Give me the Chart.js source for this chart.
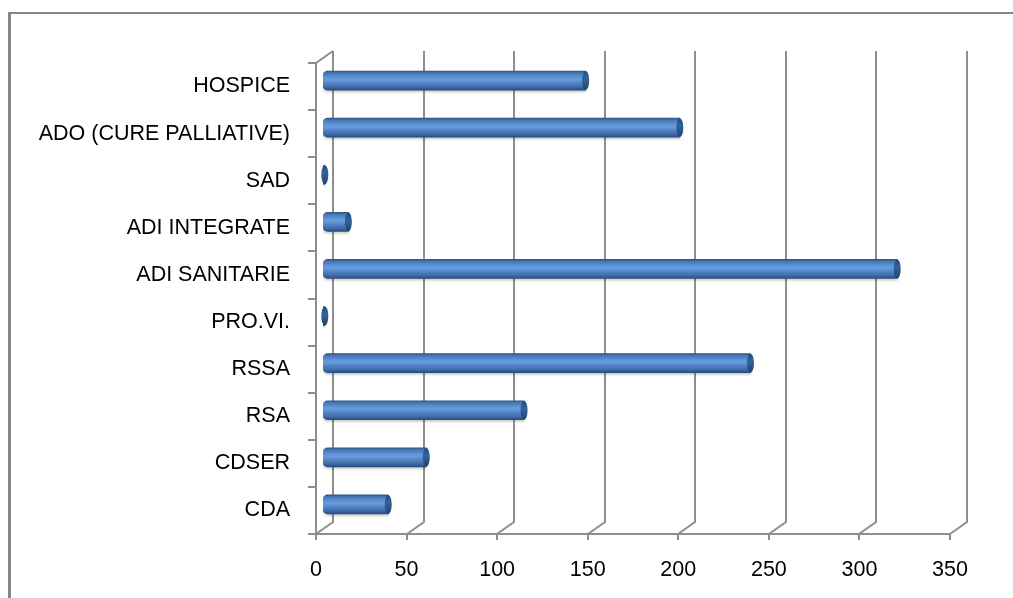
<!DOCTYPE html>
<html>
<head>
<meta charset="utf-8">
<title>Servizi</title>
<script src="https://cdn.jsdelivr.net/npm/chart.js@4.4.1/dist/chart.umd.min.js"></script>
<style>
  html, body { margin: 0; padding: 0; background: #ffffff; }
  #wrap { width: 1013px; height: 598px; position: relative; }
  canvas { display: block; }
</style>
</head>
<body>
<div id="wrap"><canvas id="chart" width="1013" height="598"></canvas></div>
<script>
// Categories, listed from top to bottom
const categories = [
  'HOSPICE',
  'ADO (CURE PALLIATIVE)',
  'SAD',
  'ADI INTEGRATE',
  'ADI SANITARIE',
  'PRO.VI.',
  'RSSA',
  'RSA',
  'CDSER',
  'CDA'
];
// Number of users per service
const values = [145, 197, 1, 14, 317, 1, 236, 111, 57, 36];
// Value axis ticks
const tickValues = [0, 50, 100, 150, 200, 250, 300, 350];

// Depth of the 3D box: front plane -> back wall
const DEPTH_X = 17;
const DEPTH_Y = -12;
const BAR_H = 19;
const FONT = { family: 'Liberation Sans, Arial, sans-serif', size: 21.5 };

function cylinderGradient(ctx) {
  const chart = ctx.chart;
  const yScale = chart.scales.y;
  if (!yScale || ctx.dataIndex === undefined) return '#4F81BD';
  const yc = yScale.getPixelForValue(ctx.dataIndex);
  if (!isFinite(yc)) return '#4F81BD';
  const g = chart.ctx.createLinearGradient(0, yc - BAR_H / 2, 0, yc + BAR_H / 2);
  g.addColorStop(0.00, '#2d5686');
  g.addColorStop(0.10, '#4676b5');
  g.addColorStop(0.30, '#5b90d3');
  g.addColorStop(0.45, '#679ddf');
  g.addColorStop(0.62, '#5485c7');
  g.addColorStop(0.85, '#3d6ba6');
  g.addColorStop(1.00, '#294b7c');
  return g;
}

// Frame around the chart
const framePlugin = {
  id: 'frame',
  beforeDraw(chart) {
    const c = chart.ctx;
    c.save();
    c.fillStyle = '#ffffff';
    c.fillRect(0, 0, chart.width, chart.height);
    c.fillStyle = '#868686';
    c.fillRect(8, 12, 3, chart.height - 12);
    c.fillRect(8, 12, chart.width - 8, 2);
    c.restore();
  }
};

// Walls, floor edges and tick marks of the 3D box
const boxPlugin = {
  id: 'box3d',
  beforeDatasetsDraw(chart) {
    const c = chart.ctx;
    const xs = chart.scales.x;
    const { left, top, bottom } = chart.chartArea;
    c.save();
    c.lineCap = 'butt';
    c.strokeStyle = '#8e8e8e';
    c.lineWidth = 2;
    // back wall gridlines, each joined to its front tick by a floor edge
    tickValues.forEach(v => {
      const xf = Math.round(xs.getPixelForValue(v));
      const xb = xf + DEPTH_X;
      c.beginPath();
      c.moveTo(xb, top + DEPTH_Y);
      c.lineTo(xb, bottom + DEPTH_Y);
      c.lineTo(xf, bottom);
      c.stroke();
      // tick mark under the floor
      c.beginPath();
      c.moveTo(xf, bottom);
      c.lineTo(xf, bottom + 6);
      c.stroke();
    });
    // front floor edge
    c.beginPath();
    c.moveTo(left - 8, bottom);
    c.lineTo(xs.getPixelForValue(tickValues[tickValues.length - 1]), bottom);
    c.stroke();
    // side wall front edge and top edge
    c.beginPath();
    c.moveTo(left, bottom);
    c.lineTo(left, top);
    c.lineTo(left + DEPTH_X, top + DEPTH_Y);
    c.stroke();
    // category tick marks
    const n = categories.length;
    for (let i = 0; i <= n; i++) {
      const y = Math.round(top + i * (bottom - top) / n);
      c.beginPath();
      c.moveTo(left - 8, y);
      c.lineTo(left, y);
      c.stroke();
    }
    c.restore();

    // bars stand partway into the box
    c.save();
    c.translate(7, DEPTH_Y / 2);
    c.shadowColor = 'rgba(0,0,0,0.18)';
    c.shadowOffsetY = 2;
    c.shadowBlur = 2;
  },
  afterDatasetsDraw(chart) {
    const c = chart.ctx;
    c.shadowColor = 'rgba(0,0,0,0)';
    // end caps of the cylinders
    const meta = chart.getDatasetMeta(0);
    meta.data.forEach(bar => {
      const h = bar.height || BAR_H;
      const g = c.createLinearGradient(0, bar.y - h / 2, 0, bar.y + h / 2);
      g.addColorStop(0, '#234a78');
      g.addColorStop(0.4, '#33639c');
      g.addColorStop(1, '#21436d');
      c.beginPath();
      c.ellipse(bar.x, bar.y, 3.5, h / 2, 0, 0, Math.PI * 2);
      c.fillStyle = g;
      c.fill();
    });
    c.restore();
  }
};

new Chart(document.getElementById('chart'), {
  type: 'bar',
  data: {
    labels: categories,
    datasets: [{
      data: values,
      backgroundColor: cylinderGradient,
      borderWidth: 0,
      borderSkipped: false,
      borderRadius: { topLeft: 5, bottomLeft: 5, topRight: 0, bottomRight: 0 },
      barThickness: BAR_H
    }]
  },
  options: {
    indexAxis: 'y',
    responsive: false,
    animation: false,
    layout: { padding: { left: 0, top: 63, right: 63, bottom: 0 } },
    plugins: {
      legend: { display: false },
      tooltip: { enabled: false }
    },
    scales: {
      x: {
        type: 'linear',
        min: 0,
        max: 350,
        afterBuildTicks(scale) { scale.ticks = tickValues.map(v => ({ value: v })); },
        afterFit(scale) { scale.height = 64; },
        grid: { display: false, drawTicks: false },
        border: { display: false },
        ticks: { color: '#000000', font: FONT, padding: 23, maxRotation: 0 }
      },
      y: {
        afterFit(scale) { scale.width = 316; },
        grid: { display: false, drawTicks: false },
        border: { display: false },
        ticks: { color: '#000000', font: FONT, padding: 26 }
      }
    }
  },
  plugins: [framePlugin, boxPlugin]
});
</script>
</body>
</html>
